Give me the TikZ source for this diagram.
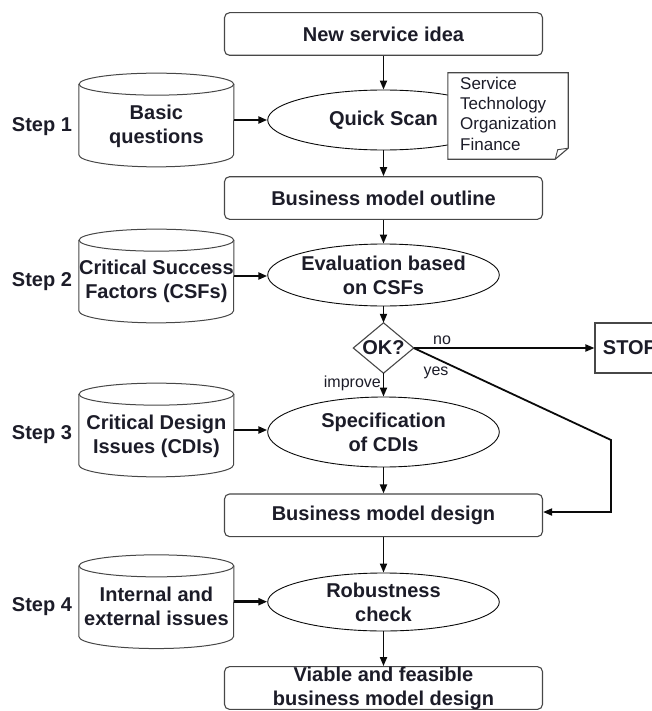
\documentclass[tikz,border=0pt]{standalone}
\usepackage{fontspec}
\setmainfont{Liberation Sans}
\usetikzlibrary{arrows.meta,shapes.geometric}

\definecolor{ink}{HTML}{1C1C28}
\definecolor{edge}{HTML}{474747}
\definecolor{wire}{HTML}{0A0A0A}

% outline of a vertical cylinder drawn around a named body node
\newcommand\drawcylinder[1]{%
  \draw[cylline] ([yshift=-11bp]#1.north) ellipse [x radius=77.35bp, y radius=11bp];
  \draw[cylline] ([yshift=-11bp]#1.north west) -- ([yshift=12bp]#1.south west)
    arc[start angle=180, end angle=360, x radius=77.35bp, y radius=12bp]
    -- ([yshift=-11bp]#1.north east);
}

\begin{document}
\begin{tikzpicture}[x=1bp, y=-1bp,
  bigtxt/.style={font=\fontsize{20bp}{24bp}\selectfont\bfseries, text=ink, align=center, inner sep=0pt},
  smalltxt/.style={font=\fontsize{16bp}{19bp}\selectfont, text=ink, inner sep=0pt},
  notetxt/.style={font=\fontsize{17bp}{20.3bp}\selectfont, text=ink, align=left, inner sep=0pt},
  stepbox/.style={rectangle, rounded corners=5bp, draw=edge, line width=1.1bp,
    minimum width=318bp, minimum height=42.6bp, bigtxt},
  activity/.style={ellipse, draw=wire, line width=0.9bp, fill=white,
    minimum width=231.6bp, inner sep=0pt},
  cylbody/.style={rectangle, minimum width=154.7bp, minimum height=93.3bp, inner sep=0pt},
  cylline/.style={draw=edge, line width=1bp},
  flow/.style={draw=wire, line width=1.8bp, -{Triangle[length=9bp,width=7bp]}},
  feed/.style={flow, line width=2.6bp},
  stopbox/.style={rectangle, draw=edge, line width=1.1bp, minimum width=70bp,
    minimum height=50bp, inner sep=0pt, bigtxt}
]
\useasboundingbox (0,0) rectangle (652,711);
\clip (0,0) rectangle (652,711);

% main column
\node[stepbox] (nsi) at (383.5,34) {New service idea};
\node[activity, minimum height=60bp, label={[bigtxt]center:Quick Scan}] (qs) at (383.5,120) {};
\node[stepbox] (bmo) at (383.5,198) {Business model outline};
\node[activity, minimum height=62bp, label={[bigtxt]center:{Evaluation based\\on CSFs}}] (ev) at (383.5,275) {};
\node[rectangle, minimum width=60bp, minimum height=50bp, inner sep=0pt, bigtxt] (ok) at (383.5,348) {OK?};
\draw[edge, line width=1.1bp] (ok.north) -- (ok.east) -- (ok.south) -- (ok.west) -- cycle;
\node[stopbox] (stop) at (630,348) {STOP};
\node[activity, minimum height=70bp, label={[bigtxt]center:{Specification\\of CDIs}}] (spec) at (383.5,432) {};
\node[stepbox] (bmd) at (383.5,515.3) {Business model design};
\node[activity, minimum height=58bp, label={[bigtxt]center:{Robustness\\check}}] (rob) at (383.5,602) {};
\node[stepbox] (final) at (383.5,688) {Viable and feasible\\business model design};

% checklist note beside the quick scan, with a turned-up corner
\node[rectangle, minimum width=120bp, minimum height=86bp, inner sep=0pt] (note) at (508,116) {};
\filldraw[fill=white, draw=edge, line width=1.1bp] (note.north west) -- (note.north east)
  -- ([yshift=11bp]note.south east) -- ([xshift=-13bp]note.south east) -- (note.south west) -- cycle;
\draw[edge, line width=0.9bp] ([xshift=-13bp]note.south east) -- ([xshift=-10.5bp,yshift=9.5bp]note.south east)
  -- ([yshift=11bp]note.south east);
\node[notetxt, anchor=west] (notelist) at (460,113.5) {Service\\Technology\\Organization\\Finance};

% input stores
\node[cylbody, label={[bigtxt, yshift=-6bp]center:{Basic\\questions}}] (bq) at (156.4,120) {};
\node[cylbody, label={[bigtxt, yshift=-5bp]center:{Critical Success\\Factors (CSFs)}}] (csf) at (156.4,276) {};
\node[cylbody, label={[bigtxt, yshift=-6bp]center:{Critical Design\\Issues (CDIs)}}] (cdi) at (156.4,430) {};
\node[cylbody, label={[bigtxt, yshift=-5bp]center:{Internal and\\external issues}}] (ie) at (156.4,601.7) {};
\drawcylinder{bq}
\drawcylinder{csf}
\drawcylinder{cdi}
\drawcylinder{ie}

% step labels
\node[bigtxt] (s1) at (42,126.7) {Step 1};
\node[bigtxt] (s2) at (42,281.7) {Step 2};
\node[bigtxt] (s3) at (42,435) {Step 3};
\node[bigtxt] (s4) at (42,606.7) {Step 4};

% flow
\draw[flow] (nsi.south) -- (qs.north);
\draw[flow] (qs.south) -- (bmo.north);
\draw[flow] (bmo.south) -- (ev.north);
\draw[flow] (ev.south) -- (ok.north);
\draw[flow] (ok.east) -- (stop.west);
\draw[flow] (ok.south) -- (spec.north);
\draw[flow] (spec.south) -- (bmd.north);
\draw[flow] (bmd.south) -- (rob.north);
\draw[flow] (rob.south) -- (final.north);

\draw[feed] (bq.east) -- (bq.east -| qs.west);
\draw[feed] (csf.east) -- (csf.east -| ev.west);
\draw[feed] (cdi.east) -- (cdi.east -| spec.west);
\draw[feed] (ie.east) -- (ie.east -| rob.west);

% "yes" branch back to the design step
\coordinate (yesbend) at (611,440);
\coordinate (yesturn) at (611,512);
\draw[flow] (ok.east) -- (yesbend) -- (yesturn) -- (yesturn -| bmd.east);

% branch labels
\node[smalltxt] (nolbl) at (442,340) {no};
\node[smalltxt] (yeslbl) at (436,373) {yes};
\node[smalltxt, anchor=east] (improvelbl) at (381,383) {improve};
\end{tikzpicture}
\end{document}
